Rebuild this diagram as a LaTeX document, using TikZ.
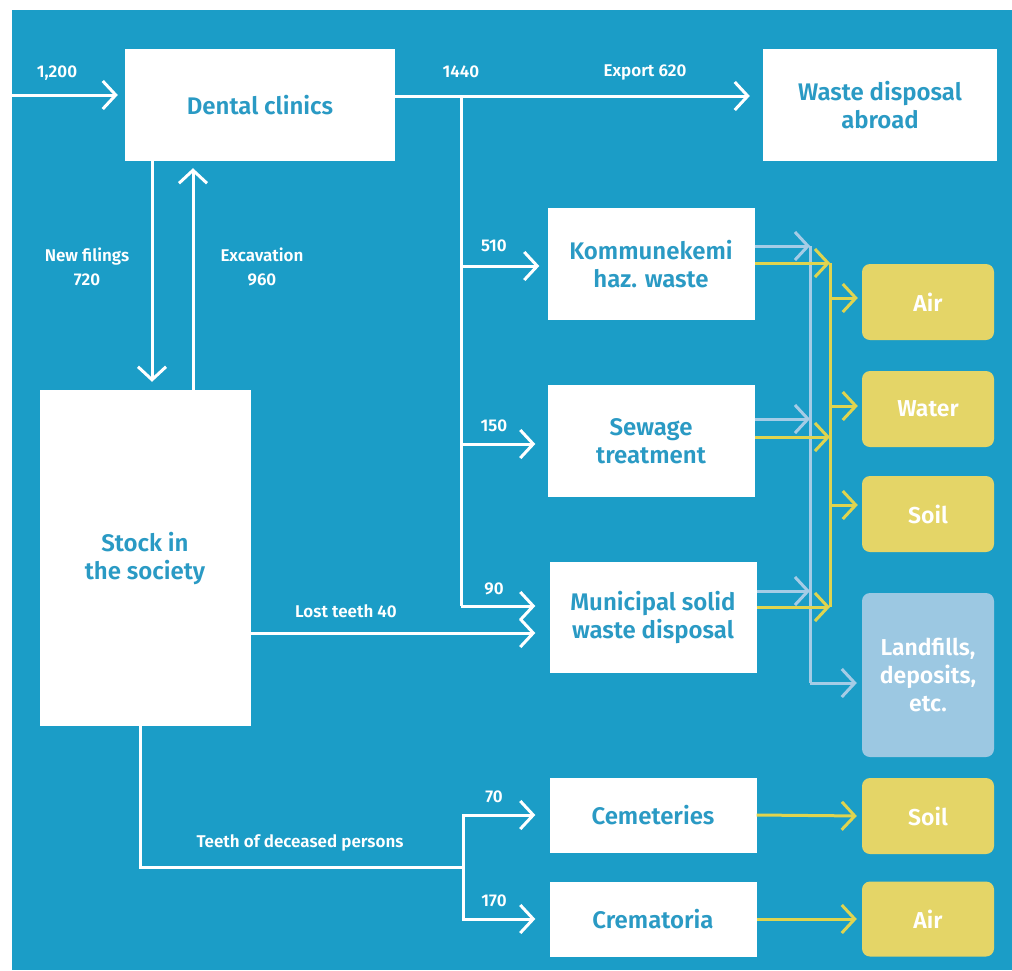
\documentclass[tikz,border=0pt]{standalone}
\usepackage{fontspec}
\setmainfont{Fira Sans}[BoldFont={Fira Sans SemiBold}]
\usetikzlibrary{arrows.meta}
\definecolor{bg}{HTML}{1B9DC7}
\definecolor{boxtext}{HTML}{2A9AC4}
\definecolor{ylw}{HTML}{E4D567}
\definecolor{land}{HTML}{9CC8E2}
\definecolor{yline}{HTML}{DFD44F}
\definecolor{lline}{HTML}{A5CCE6}
\tikzset{
  box/.style={fill=white, text=boxtext, font=\fontsize{24}{28}\selectfont\bfseries, align=center, inner sep=0pt},
  ybox/.style={fill=ylw, text=white, rounded corners=8pt, font=\fontsize{23}{27}\selectfont\bfseries, align=center, inner sep=0pt},
  lbox/.style={fill=land, text=white, rounded corners=8pt, font=\fontsize{23}{28}\selectfont\bfseries, align=center, inner sep=0pt},
  lbl/.style={text=white, font=\fontsize{17}{24}\selectfont\bfseries, align=center, inner sep=0pt},
  wl/.style={draw=white, line width=3pt},
  wa/.style={wl, -{Straight Barb[length=13pt, width=28pt]}},
  yl/.style={draw=yline, line width=3pt},
  ya/.style={yl, -{Straight Barb[length=13pt, width=28pt]}},
  ll/.style={draw=lline, line width=3pt},
  la/.style={ll, -{Straight Barb[length=13pt, width=28pt]}},
}
\begin{document}
\begin{tikzpicture}[x=1pt,y=-1pt]
\path[use as bounding box, fill=white] (0,0) rectangle (1012,970);
\fill[bg] (12,10) rectangle (1012,970);

% boxes
\node[box, minimum width=270pt, minimum height=112pt] (dental) at (260,105) {Dental clinics};
\node[box, minimum width=234pt, minimum height=112pt] (abroad) at (880,105) {Waste disposal\\abroad};
\node[box, minimum width=207pt, minimum height=112pt] (komm) at (651,264) {Kommunekemi\\haz. waste};
\node[box, minimum width=207pt, minimum height=112pt] (sewage) at (651,441) {Sewage\\treatment};
\node[box, minimum width=207pt, minimum height=111pt] (muni) at (653,617) {Municipal solid\\waste disposal};
\node[box, minimum width=211pt, minimum height=336pt] (stock) at (145,558) {Stock in\\the society};
\node[box, minimum width=207pt, minimum height=75pt] (cem) at (653,815) {Cemeteries};
\node[box, minimum width=207pt, minimum height=75pt] (crem) at (653,919) {Crematoria};

\node[ybox, minimum width=132pt, minimum height=76pt] (air1) at (928,302) {Air};
\node[ybox, minimum width=132pt, minimum height=76pt] (water) at (928,409) {Water};
\node[ybox, minimum width=132pt, minimum height=76pt] (soil1) at (928,514) {Soil};
\node[lbox, minimum width=132pt, minimum height=164pt] (land) at (928,675) {Landfills,\\deposits,\\etc.};
\node[ybox, minimum width=132pt, minimum height=76pt] (soil2) at (928,816) {Soil};
\node[ybox, minimum width=132pt, minimum height=75pt] (air2) at (928,919) {Air};

% coordinates
\coordinate (in) at (12,95);
\coordinate (j1440) at (461,96);
\coordinate (b1) at (461,266);
\coordinate (b2) at (461,444);
\coordinate (b3) at (461,606);
\coordinate (nfx) at (152,270);
\coordinate (exx) at (193,270);
\coordinate (lt) at (251,633);
\coordinate (dx) at (140,867);
\coordinate (dj) at (463,867);
\coordinate (kl) at (810,246);
\coordinate (ky) at (830,263);
\coordinate (sl) at (810,419);
\coordinate (sy) at (830,437);
\coordinate (ml) at (810,591);
\coordinate (my) at (830,607);
\coordinate (lc) at (810,683);
\coordinate (ya1) at (830,298);
\coordinate (ya2) at (830,406);
\coordinate (ya3) at (830,505);

% white connectors
\draw[wa, shorten >=7pt] (in) -- (in -| dental.west);
\draw[wa, shorten >=13pt] (dental.east |- j1440) -- (abroad.west |- j1440);
\draw[wl] (j1440) -- (b3);
\draw[wa, shorten >=8pt] (b1) -- (b1 -| komm.west);
\draw[wa, shorten >=12pt] (b2) -- (b2 -| sewage.west);
\draw[wa, shorten >=14pt] (b3) -- (b3 -| muni.west);
\draw[wa, shorten >=8pt] (nfx |- dental.south) -- (nfx |- stock.north);
\draw[wa, shorten >=7pt] (exx |- stock.north) -- (exx |- dental.south);
\draw[wa, shorten >=14pt] (stock.east |- lt) -- (muni.west |- lt);
\draw[wl] (stock.south -| dx) -- (dx) -- (dj);
\draw[wa, shorten >=14pt] (dj) |- (cem.west);
\draw[wa, shorten >=14pt] (dj) |- (crem.west);

% light blue connectors
\draw[ll] (kl) -- (lc);
\draw[la] (komm.east |- kl) -- (kl);
\draw[la] (sewage.east |- sl) -- (sl);
\draw[la] (muni.east |- ml) -- (ml);
\draw[la, shorten >=5pt] (lc) -- (land.west |- lc);

% yellow connectors
\draw[yl] (ky) -- (my);
\draw[ya] (komm.east |- ky) -- (ky);
\draw[ya] (sewage.east |- sy) -- (sy);
\draw[ya] (muni.east |- my) -- (my);
\draw[ya, shorten >=4pt] (ya1) -- (air1.west |- ya1);
\draw[ya, shorten >=4pt] (ya2) -- (water.west |- ya2);
\draw[ya, shorten >=4pt] (ya3) -- (soil1.west |- ya3);
\draw[ya, shorten >=5pt] (cem.east) -- (soil2.west);
\draw[ya, shorten >=5pt] (crem.east) -- (air2.west);

% labels
\node[lbl] (l1200) at (57,73) {1,200};
\node[lbl] (l1440) at (461,72) {1440};
\node[lbl] (lexp) at (645,72) {Export 620};
\node[lbl] (lnew) at (87,267) {New filings\\720};
\node[lbl] (lexc) at (262,267) {Excavation\\960};
\node[lbl] (l510) at (494,246) {510};
\node[lbl] (l150) at (494,426) {150};
\node[lbl] (l90) at (494,589) {90};
\node[lbl] (llost) at (346,611) {Lost teeth 40};
\node[lbl] (ldec) at (300,843) {Teeth of deceased persons};
\node[lbl] (l70) at (494,797) {70};
\node[lbl] (l170) at (494,901) {170};
\end{tikzpicture}
\end{document}
